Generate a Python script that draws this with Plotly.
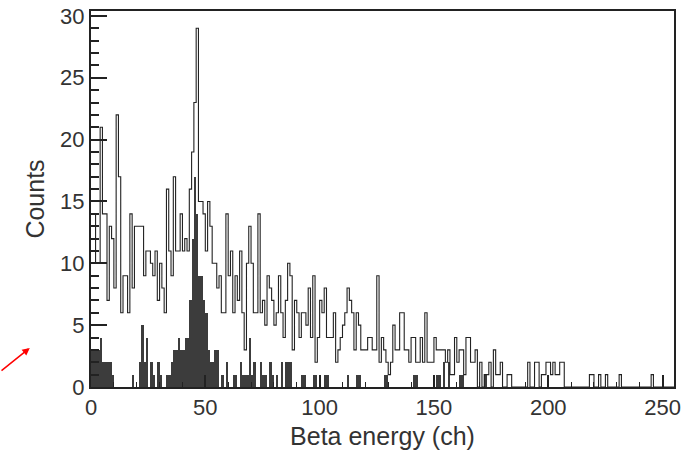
import plotly.graph_objects as go

# channel values (counts per channel), channels 0..254
open_counts = [
    14, 14, 10, 10, 21, 14, 14, 7, 13, 12,
    8, 22, 17, 6, 9, 9, 6, 14, 8, 13,
    13, 13, 13, 9, 11, 11, 10, 9, 11, 7,
    10, 8, 6, 16, 11, 9, 17, 11, 11, 14,
    11, 12, 11, 16, 19, 23, 29, 15, 15, 14,
    11, 15, 13, 10, 10, 8, 9, 6, 6, 14,
    9, 11, 6, 9, 7, 11, 6, 3, 10, 13,
    10, 6, 6, 14, 6, 7, 5, 9, 8, 7,
    5, 6, 9, 6, 4, 7, 10, 9, 3, 7,
    6, 4, 6, 6, 5, 8, 4, 9, 2, 4,
    7, 6, 8, 4, 4, 4, 6, 2, 3, 4,
    5, 6, 8, 7, 6, 3, 6, 5, 3, 3,
    3, 4, 4, 3, 3, 9, 2, 4, 3, 2,
    1, 2, 5, 3, 3, 6, 6, 3, 3, 2,
    4, 4, 2, 2, 4, 2, 6, 2, 2, 2,
    4, 3, 3, 3, 3, 2, 3, 1, 1, 4,
    2, 3, 3, 1, 4, 4, 2, 2, 3, 0,
    2, 0, 1, 1, 2, 0, 3, 1, 1, 2,
    0, 0, 1, 1, 0, 0, 0, 0, 0, 0,
    0, 2, 0, 0, 2, 2, 0, 1, 1, 2,
    2, 1, 2, 1, 1, 2, 2, 0, 0, 0,
    0, 0, 0, 0, 0, 0, 0, 0, 1, 1,
    0, 0, 1, 0, 0, 1, 0, 0, 0, 0,
    0, 1, 0, 0, 0, 0, 0, 0, 0, 0,
    0, 0, 0, 0, 0, 1, 0, 0, 0, 0,
    0, 0, 0, 0, 0,
]

filled_counts = [
    3, 3, 3, 3, 4, 2, 2, 2, 2, 1,
    0, 0, 0, 0, 0, 0, 0, 0, 1, 0,
    0, 2, 5, 2, 4, 0, 2, 1, 0, 2,
    1, 0, 0, 1, 1, 2, 3, 3, 4, 3,
    3, 4, 4, 7, 12, 17, 14, 9, 9, 7,
    6, 3, 2, 2, 3, 3, 0, 1, 0, 2,
    0, 0, 1, 1, 0, 2, 1, 1, 1, 4,
    1, 2, 0, 0, 2, 1, 1, 0, 2, 1,
    0, 1, 0, 2, 0, 2, 2, 2, 0, 0,
    0, 0, 1, 1, 0, 0, 0, 1, 1, 0,
    0, 0, 1, 1, 0, 0, 0, 0, 0, 0,
    0, 0, 1, 0, 0, 0, 1, 1, 0, 0,
    0, 0, 0, 0, 0, 0, 0, 0, 1, 1,
    0, 0, 0, 0, 0, 0, 0, 0, 0, 0,
    0, 1, 1, 0, 0, 0, 0, 0, 0, 0,
    0, 1, 1, 0, 2, 0, 2, 0, 0, 0,
    0, 1, 1, 0, 0, 0, 0, 0, 0, 0,
    0, 0, 1, 0, 0, 0, 0, 0, 0, 0,
] + [0] * 75

channels = list(range(len(open_counts)))
x_ticks = [0, 50, 100, 150, 200, 250]
y_ticks = [0, 5, 10, 15, 20, 25, 30]

fig = go.Figure()

fig.add_trace(go.Bar(
    x=[c + 0.5 for c in channels], y=filled_counts, width=1,
    marker=dict(color="#3c3c3c", line=dict(width=0)),
    showlegend=False,
))

fig.add_trace(go.Scatter(
    x=channels + [len(channels)],
    y=open_counts + [open_counts[-1]],
    mode="lines", line=dict(shape="hv", color="#222222", width=1.1),
    showlegend=False,
))

font_family = "Liberation Sans, Arial, sans-serif"

fig.update_layout(
    width=684, height=454,
    margin=dict(l=91, r=10, t=11, b=67),
    paper_bgcolor="white", plot_bgcolor="white",
    bargap=0,
    font=dict(family=font_family, size=22, color="#333333"),
    xaxis=dict(
        range=[0, 255], tickvals=x_ticks, ticks="inside", ticklen=12, tickwidth=1.5,
        tickcolor="#222", showgrid=False, zeroline=False, automargin=False,
        showline=True, linecolor="#222", linewidth=2, mirror=True,
        minor=dict(dtick=10, ticks="inside", ticklen=5, tickcolor="#222", tickwidth=1.2),
        title=dict(text="Beta energy (ch)", font=dict(size=25), standoff=8),
        tickfont=dict(size=22),
    ),
    yaxis=dict(
        range=[0, 30.4], tickvals=y_ticks, ticks="inside", ticklen=16, tickwidth=2,
        tickcolor="#222", showgrid=False, zeroline=False, automargin=False,
        showline=True, linecolor="#222", linewidth=2, mirror=True,
        minor=dict(dtick=1, ticks="inside", ticklen=8, tickcolor="#222", tickwidth=1.5),
        title=dict(text="Counts", font=dict(size=25), standoff=8),
        tickfont=dict(size=22),
    ),
    annotations=[dict(
        xref="paper", yref="paper", x=-0.105, y=0.104, text="",
        showarrow=True, arrowhead=2, arrowsize=1, arrowwidth=1.5, arrowcolor="red",
        ax=-30, ay=24,
    )],
)

fig.write_html("out.html", config={"displayModeBar": False},
               post_script="document.body.style.margin='0';")
